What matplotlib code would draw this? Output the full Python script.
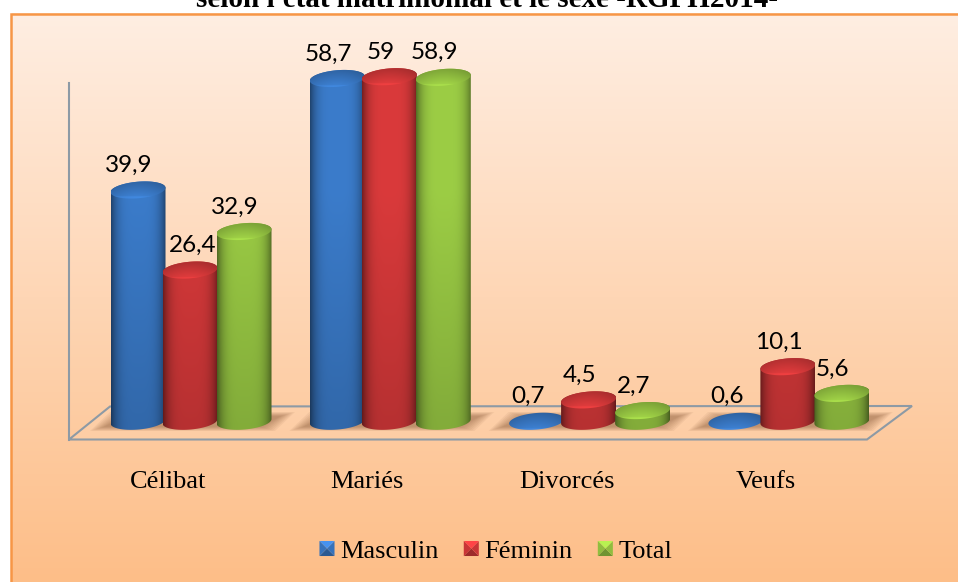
import numpy as np
import matplotlib
matplotlib.use('Agg')
import matplotlib.pyplot as plt
from matplotlib.path import Path
from matplotlib.patches import PathPatch, Polygon
from matplotlib.legend_handler import HandlerBase
from matplotlib.lines import Line2D

categories = ['Célibat', 'Mariés', 'Divorcés', 'Veufs']
masculin = [39.9, 58.7, 0.7, 0.6]
feminin = [26.4, 59, 4.5, 10.1]
total = [32.9, 58.9, 2.7, 5.6]
series_names = ['Masculin', 'Féminin', 'Total']
series_colors = ['#3b7ccb', '#da3a3b', '#9ccd45']
title = "selon l'état matrimonial et le sexe -RGPH2014-"

W, H = 958, 582
SX = 199.3   # px par catégorie
SY = 5.93    # px par unité
Y0 = 426.6   # px de la valeur 0
BASE = 0.9   # le pied des cylindres est un peu au dessus de 0 (vue 3D)
OFFSETS = np.array([-30, 22, 76]) / SX + 0.0
HALF = 27.5 / SX
EH = 8.3 / SY    # demi hauteur de l'ellipse
TILT = 2.2 / SY  # ellipse penchée, gauche plus bas


def rgb(c):
    return np.array(matplotlib.colors.to_rgb(c))


def ellipse(xc, yc, t):
    return xc + HALF * np.cos(t), yc + EH * np.sin(t) + TILT * np.cos(t)


def cylinder(ax, xc, val, color, z):
    top = max(val, BASE)
    c = rgb(color)
    if val > BASE:
        t1 = np.linspace(np.pi, 2 * np.pi, 40)
        t2 = np.linspace(0, np.pi, 40)
        bx, by = ellipse(xc, BASE, t1)
        tx, ty = ellipse(xc, top, t2)
        verts = np.column_stack([np.r_[bx, tx], np.r_[by, ty]])
        clip = PathPatch(Path(np.vstack([verts, verts[0]]), closed=True), transform=ax.transData)
        u = np.linspace(-1, 1, 60)
        prof = 0.55 + 0.45 * (1 - np.abs(u) ** 4)
        v = np.linspace(0, 1, 40)[:, None]
        # plus sombre vers le bas du graphique
        ymin, ymax = BASE - EH * 1.3, top + EH * 1.3
        vals = ymin + (ymax - ymin) * (1 - v)
        fade = 0.84 + 0.16 * np.clip(vals / 40, 0, 1)
        img = (prof[None, :] * fade)[..., None] * c
        im = ax.imshow(np.clip(img, 0, 1), extent=[xc - HALF, xc + HALF, ymin, ymax],
                       aspect='auto', zorder=z, interpolation='bilinear')
        im.set_clip_path(clip)
    # dessus du cylindre
    t = np.linspace(0, 2 * np.pi, 80)
    ex, ey = ellipse(xc, top, t)
    verts = np.column_stack([ex, ey])
    clip = PathPatch(Path(np.vstack([verts, verts[0]]), closed=True), transform=ax.transData)
    ymin, ymax = top - EH - TILT, top + EH + TILT
    v = np.linspace(0, 1, 40)
    shade = 0.78 + 0.3 * v
    shade[v > 0.84] = 1.1
    u = np.linspace(-1, 1, 40)
    side = 0.88 + 0.12 * (1 - np.abs(u) ** 2)
    img = (shade[:, None] * side[None, :])[..., None] * c
    im = ax.imshow(np.clip(img, 0, 1), extent=[xc - HALF, xc + HALF, ymin, ymax],
                   aspect='auto', zorder=z + 0.1, interpolation='bilinear')
    im.set_clip_path(clip)


class BevelHandler(HandlerBase):
    # carré de légende façon pyramide
    def create_artists(self, legend, orig, xd, yd, width, height, fontsize, trans):
        s = width
        x0 = -xd
        y0 = (height - s) / 2 - yd
        c = rgb(orig.get_color())
        cx, cy = x0 + s / 2, y0 + s / 2
        pts = [(x0, y0), (x0 + s, y0), (x0 + s, y0 + s), (x0, y0 + s)]
        light = [0.72, 0.92, 1.18, 0.92]
        out = []
        for i in range(4):
            tri = [pts[i], pts[(i + 1) % 4], (cx, cy)]
            out.append(Polygon(tri, closed=True, facecolor=np.clip(c * light[i], 0, 1),
                               edgecolor='none', transform=trans))
        return out


fig = plt.figure(figsize=(W / 100, H / 100), dpi=100)

# fond, en pixels
bg = fig.add_axes([0, 0, 1, 1], zorder=0)
bg.set_xlim(0, W)
bg.set_ylim(H, 0)
bg.axis('off')
grad = np.linspace(0, 1, 200)[:, None, None] * (rgb('#fdbe88') - rgb('#ffeee2')) + rgb('#ffeee2')
bg.imshow(grad, extent=[12, W, H, 13], aspect='auto', zorder=1)
bg.set_xlim(0, W)
bg.set_ylim(H, 0)
bg.plot([11.5, 11.5, W], [H, 13.5, 13.5], color='#f79646', lw=1.8, zorder=2, solid_joinstyle='miter')
bg.text(487, 7, title, family='Liberation Serif', weight='bold', fontsize=21,
        ha='center', va='baseline', zorder=3)

# sol et axe vertical
grey = '#8d9aa5'
bg.plot([69, 69], [83, 439.5], color=grey, lw=1.5, zorder=3)
bg.add_patch(Polygon([(69, 439.5), (110, 406.5), (912, 406), (867, 439.5)], closed=True,
                     facecolor='#ffffff', alpha=0.07, zorder=3))
bg.add_patch(Polygon([(69, 439.5), (110, 406.5), (912, 406), (867, 439.5)], closed=True,
                     fill=False, edgecolor=grey, lw=1.5, zorder=3))

# ombres au sol
for i in range(len(categories)):
    x0 = 90 + 199.3 * i
    for k in range(8):
        d = k * 2
        bg.add_patch(Polygon([(x0 + d, 431 - d * 0.3), (x0 + 20 + d, 412 + d * 0.3),
                              (x0 + 205 - d, 412 + d * 0.3), (x0 + 185 - d, 431 - d * 0.3)],
                             closed=True, facecolor='#7a4a2a', edgecolor='none', alpha=0.07, zorder=3))

# graphique, en unités de données
ax = fig.add_axes([0, (H - 440) / H, 1, 440 / H], zorder=1)
ax.patch.set_visible(False)
ax.set_frame_on(False)

all_series = [masculin, feminin, total]
z = 3
for i in range(len(categories)):
    for j, vals in enumerate(all_series):
        xc = i + OFFSETS[j]
        cylinder(ax, xc, vals[i], series_colors[j], z)
        z += 1
        dx = 3 if vals[i] == 26.4 else -9
        ax.annotate(str(vals[i]).replace('.', ','), (xc, max(vals[i], BASE)),
                    xytext=(dx * 0.72, 24.5 * 0.72), textcoords='offset points',
                    family='Lato', fontsize=17.5, ha='center', va='center', color='black', zorder=100)

ax.set_xlim(-168 / SX, (W - 168) / SX)
ax.set_ylim((Y0 - 440) / SY, Y0 / SY)
ax.set_yticks([])
ax.set_xticks(range(len(categories)))
ax.set_xticklabels(categories, family='Liberation Serif', fontsize=19)
ax.tick_params(axis='x', length=0, pad=22)

handles = [Line2D([], [], color=c) for c in series_colors]
fig.legend(handles, series_names, loc='center', bbox_to_anchor=(496 / W, 1 - 551 / H),
           frameon=False, ncol=3, handler_map={Line2D: BevelHandler()},
           prop={'family': 'Liberation Serif', 'size': 19}, handlelength=0.57,
           handletextpad=0.22, columnspacing=0.95, borderpad=0)

fig.savefig('out.png', dpi=100)
